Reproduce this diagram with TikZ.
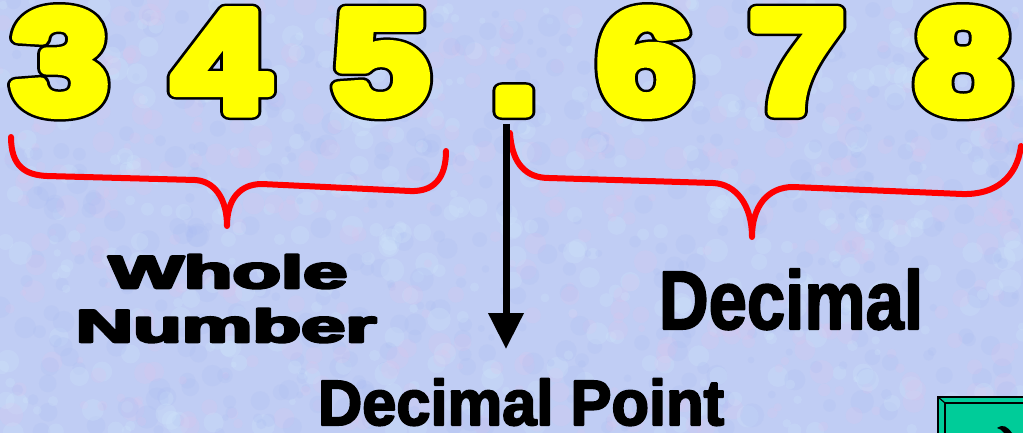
\documentclass[tikz,border=0pt]{standalone}
\usepackage{fontspec}
\setmainfont{Liberation Sans}
\usetikzlibrary{arrows.meta}
\definecolor{bgc}{RGB}{192,205,244}
\definecolor{bpink}{RGB}{222,196,236}
\definecolor{bblue}{RGB}{170,188,242}
\definecolor{bcyan}{RGB}{210,234,252}
\definecolor{dyellow}{RGB}{255,255,0}
\definecolor{bred}{RGB}{255,0,0}
\definecolor{bgreen}{RGB}{0,204,153}
\newcommand\strk[2]{\special{pdf:literal direct #1 w 1 j 2 Tr}#2\special{pdf:literal direct 0 Tr}}
\begin{document}
\begin{tikzpicture}[x=1pt,y=-1pt,
  digitb/.style={font=\fontsize{146}{146}\bfseries\selectfont, text=black, inner sep=0pt, anchor=base, xscale=1.17, text depth=0pt},
  digity/.style={font=\fontsize{146}{146}\bfseries\selectfont, text=dyellow, inner sep=0pt, anchor=base, xscale=1.17, text depth=0pt},
  widelabel/.style={font=\fontsize{46}{46}\bfseries\selectfont, text=black, inner sep=0pt, anchor=base, xscale=1.73, text depth=0pt},
  declabel/.style={font=\fontsize{83}{83}\bfseries\selectfont, text=black, inner sep=0pt, anchor=base, xscale=0.83, text depth=0pt},
  pointlabel/.style={font=\fontsize{64}{64}\bfseries\selectfont, text=black, inner sep=0pt, anchor=base, xscale=0.96, text depth=0pt},
  brace/.style={draw=bred, line width=6pt, line cap=round, line join=round},
  pointer/.style={draw=black, line width=7pt, -{Triangle[width=34pt,length=36pt]}}
]
\useasboundingbox (0,0) rectangle (1023,433);
\begin{scope}
\clip (0,0) rectangle (1023,433);
\fill[bgc] (0,0) rectangle (1023,433);
\pgfmathsetseed{12345}
\foreach \i in {1,...,1400}{
  \pgfmathsetmacro{\px}{rnd*1023}
  \pgfmathsetmacro{\py}{rnd*433}
  \pgfmathsetmacro{\pr}{3+rnd*9}
  \pgfmathtruncatemacro{\pc}{rnd*3}
  \ifcase\pc \def\cc{bpink}\or\def\cc{bblue}\else\def\cc{bcyan}\fi
  \fill[\cc, opacity=0.22] (\px,\py) circle (\pr);
}
% digits
\foreach \d/\x/\n in {3/60/d3, 4/221/d4, 5/381/d5, ./514/pt, 6/645/d6, 7/797/d7, 8/963/d8}{
  \node[digitb] (\n b) at (\x,112) {\strk{16}{\d}};
  \node[digity] (\n) at (\x,112) {\strk{11}{\d}};
}
% braces
\coordinate (lb1) at (11,137);
\coordinate (lbt) at (227,226);
\coordinate (lb2) at (446,151);
\draw[brace] (lb1) .. controls (11,166) and (25,175) .. (47,176)
  -- (195,180) .. controls (214,181) and (227,198) .. (lbt)
  .. controls (227,199) and (240,184) .. (262,184)
  -- (410,191) .. controls (434,192) and (446,178) .. (lb2);
\coordinate (rb1) at (510,133);
\coordinate (rbt) at (752,237);
\coordinate (rb2) at (1021,146);
\draw[brace] (rb1) .. controls (512,165) and (527,178) .. (549,178)
  -- (713,183) .. controls (736,184) and (752,205) .. (rbt)
  .. controls (752,206) and (768,187) .. (793,187)
  -- (962,194) .. controls (995,195) and (1017,178) .. (rb2);
% green box
\draw[fill=bgreen, line width=1.5pt] (938,397) rectangle (1040,450);
\draw[line width=1.2pt] (945,403) rectangle (1040,450);
\draw[line width=1.2pt] (938,397) -- (945,403);
\fill[black] (997,428) .. controls (1003,424) and (1007,426) .. (1012,433) -- (1004,433) .. controls (1002,430) and (1000,429) .. cycle;
\end{scope}
% labels
\node[widelabel] (whole) at (228,288) {\strk{2.5}{Whole}};
\node[widelabel] (number) at (226,342) {\strk{2.5}{Number}};
\node[declabel] (decimal) at (791,329) {\strk{2}{Decimal}};
\node[pointlabel] (dpoint) at (521,425) {\strk{2}{Decimal Point}};
% arrow
\coordinate (as) at (506,124);
\coordinate (ae) at (506,349);
\draw[pointer] (as) -- (ae);
\end{tikzpicture}
\end{document}
